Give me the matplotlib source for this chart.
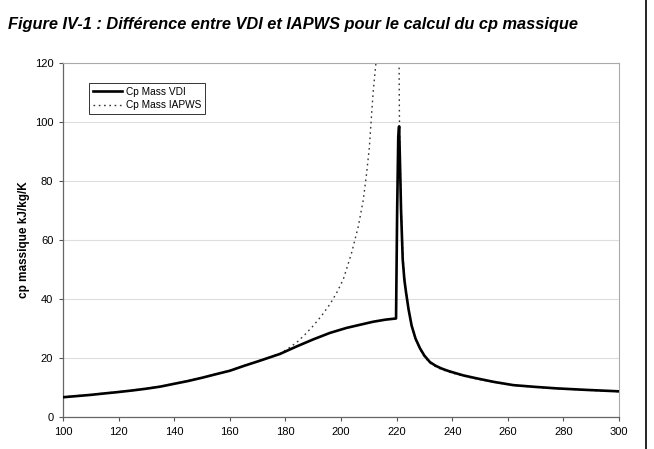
import matplotlib
matplotlib.use("Agg")
import matplotlib.pyplot as plt
from matplotlib.lines import Line2D

# VDI data
t_vdi = [100, 105, 110, 115, 119.3, 125, 130, 135, 139.7, 145, 150, 155, 160.1, 165, 170.9, 178.1,
         184, 190.0, 196, 202, 207, 211.6, 216, 219.8,
         220.2, 220.6, 220.9, 221.2, 221.6, 222.2, 222.8, 223.4, 224.3, 225.4, 226.8, 228.4, 230.0,
         232.0, 234, 236, 238, 240, 244, 248.8, 255, 262.0, 270, 277.6, 288, 300]
cp_vdi = [6.7, 7.1, 7.5, 8.0, 8.4, 9.0, 9.6, 10.3, 11.2, 12.2, 13.3, 14.5, 15.7, 17.3, 19.1, 21.4,
          23.9, 26.3, 28.5, 30.2, 31.3, 32.3, 33.0, 33.4,
          70.0, 95.0, 98.5, 87.0, 70.1, 53.4, 46.5, 42.2, 36.5, 31.0, 26.6, 23.3, 20.8,
          18.6, 17.4, 16.5, 15.8, 15.2, 14.1, 13.1, 11.9, 10.8, 10.2, 9.7, 9.2, 8.7]

# IAPWS data
t_iapws = [100, 105, 110, 115, 119.3, 125, 130, 135, 139.7, 145, 150, 155, 160.1, 165, 170.9, 178.1,
           181, 184.1, 187, 190.0, 193, 196.0, 198.5, 200.8, 203.8, 206.2, 208.0, 209.2, 210.2,
           210.8, 211.6, 212.5, 213.2, 216.5,
           220.85, 220.95, 221.05, 221.3, 221.7, 222.3, 222.9, 223.5, 224.4, 225.5, 226.9, 228.5,
           230.0, 232.0, 234, 236, 238, 240, 244, 248.8, 255, 262.0, 270, 277.6, 288, 300]
cp_iapws = [6.8, 7.2, 7.6, 8.1, 8.5, 9.1, 9.7, 10.4, 11.3, 12.3, 13.4, 14.6, 15.8, 17.4, 19.2, 21.5,
            23.2, 25.3, 27.9, 30.9, 34.3, 38.2, 42.2, 46.6, 55.6, 64.5, 73.5, 82.5, 91.4,
            99.8, 110.5, 119.4, 130.0, 400.0,
            130.0, 110.0, 98.0, 86.0, 70.0, 54.0, 46.5, 42.0, 36.2, 30.6, 26.2, 22.9,
            20.4, 18.3, 17.1, 16.2, 15.5, 14.9, 13.9, 12.9, 11.8, 10.7, 10.1, 9.6, 9.1, 8.6]

x_ticks = [100, 120, 140, 160, 180, 200, 220, 240, 260, 280, 300]
y_ticks = [0, 20, 40, 60, 80, 100, 120]

W, H = 654, 449
plt.rcParams['font.family'] = ['Liberation Sans', 'DejaVu Sans']
fig = plt.figure(figsize=(W / 100, H / 100), dpi=100)

ax = fig.add_axes([63 / W, (H - 417) / H, (619 - 63) / W, (417 - 63) / H])

ax.plot(t_vdi, cp_vdi, color='black', lw=1.9, solid_joinstyle='round', label='Cp Mass VDI', zorder=3)
ax.plot(t_iapws, cp_iapws, color='#333333', lw=1.0, linestyle=(0, (1.2, 2.6)), label='Cp Mass IAPWS', zorder=2)

ax.set_xlim(100, 300)
ax.set_ylim(0, 120)
ax.set_xticks(x_ticks)
ax.set_yticks(y_ticks)
ax.tick_params(axis='both', labelsize=8, direction='out', length=3, width=0.8, color='#555555', pad=4)
ax.grid(axis='y', color='#dddddd', lw=0.8)
ax.set_axisbelow(True)
for s in ['top', 'right']:
    ax.spines[s].set_color('#aaaaaa')
    ax.spines[s].set_linewidth(0.8)
for s in ['left', 'bottom']:
    ax.spines[s].set_color('#666666')
    ax.spines[s].set_linewidth(0.9)

ax.set_ylabel('cp massique kJ/kg/K', fontsize=8.5, fontweight='bold')
ax.yaxis.set_label_coords((30 - 63) / (619 - 63), 0.5)

leg = ax.legend(loc='upper left', bbox_to_anchor=((89 - 63) / (619 - 63), 1 - (83 - 63) / (417 - 63)),
                fontsize=7.3, frameon=True, fancybox=False, handlelength=2.9, handletextpad=0.4,
                borderpad=0.35, labelspacing=0.35, borderaxespad=0)
leg.get_frame().set_edgecolor('black')
leg.get_frame().set_linewidth(0.7)

fig.text(8 / W, 1 - 25 / H, 'Figure IV-1 : Différence entre VDI et IAPWS pour le calcul du cp massique',
         fontsize=11.8, fontweight='bold', fontstyle='italic', ha='left', va='center')

fig.add_artist(Line2D([646 / W, 646 / W], [0, 1], color='black', lw=1.2, transform=fig.transFigure))

fig.savefig('out.png', dpi=100)
